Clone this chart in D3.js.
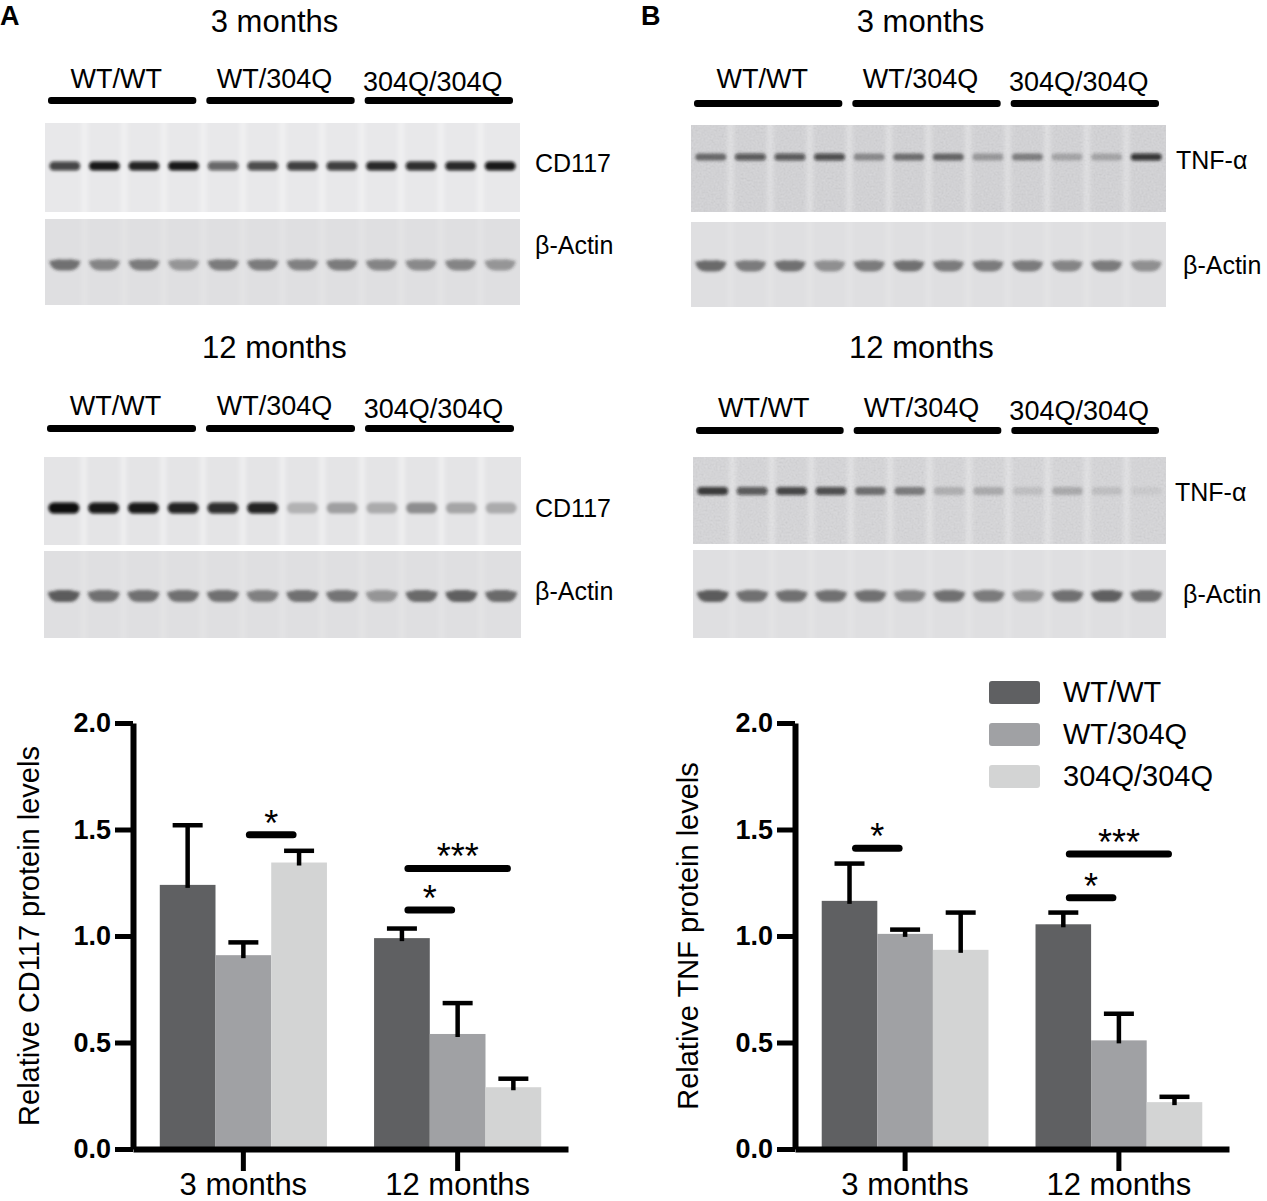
<!DOCTYPE html>
<html>
<head>
<meta charset="utf-8">
<script src="https://cdn.jsdelivr.net/npm/d3@7"></script>
<style>
  body { margin: 0; background: #fff; }
  svg text { font-family: "Liberation Sans", Arial, sans-serif; fill: #000; }
</style>
</head>
<body>
<svg width="1267" height="1201"></svg>
<script>
// groups and ages
var genotypes = ["WT/WT", "WT/304Q", "304Q/304Q"];
var ages = ["3 months", "12 months"];
var yTicks = [0, 0.5, 1.0, 1.5, 2.0];

// densitometry, mean and SEM per age (rows) and genotype (cols)
var cd117Mean = [[1.24, 0.91, 1.345], [0.99, 0.54, 0.29]];
var cd117Sem = [[0.28, 0.06, 0.055], [0.045, 0.145, 0.04]];
var tnfMean = [[1.165, 1.01, 0.935], [1.055, 0.51, 0.22]];
var tnfSem = [[0.175, 0.02, 0.175], [0.055, 0.125, 0.025]];

// significance bars: age index, genotype from/to, level on y axis
var cd117Sig = [
  {age: 0, from: 1, to: 2, level: 1.475, mark: "*"},
  {age: 1, from: 0, to: 2, level: 1.317, mark: "***"},
  {age: 1, from: 0, to: 1, level: 1.122, mark: "*"}
];
var tnfSig = [
  {age: 0, from: 0, to: 1, level: 1.412, mark: "*"},
  {age: 1, from: 0, to: 2, level: 1.385, mark: "***"},
  {age: 1, from: 0, to: 1, level: 1.179, mark: "*"}
];

// blot band darkness per lane (0 = nothing, 1 = black)
var cd117Lanes3m = [0.75, 0.95, 0.9, 0.95, 0.6, 0.72, 0.78, 0.78, 0.88, 0.85, 0.88, 0.95];
var actinLanesA3m = [0.6, 0.5, 0.55, 0.42, 0.55, 0.55, 0.52, 0.55, 0.5, 0.48, 0.5, 0.42];
var cd117Lanes12m = [1.0, 0.95, 0.95, 0.9, 0.85, 0.9, 0.22, 0.3, 0.25, 0.38, 0.28, 0.25];
var actinLanesA12m = [0.72, 0.6, 0.6, 0.6, 0.6, 0.52, 0.62, 0.58, 0.42, 0.65, 0.7, 0.65];
var tnfLanes3m = [0.5, 0.62, 0.62, 0.68, 0.35, 0.48, 0.52, 0.28, 0.4, 0.22, 0.22, 0.8];
var actinLanesB3m = [0.65, 0.55, 0.6, 0.45, 0.55, 0.6, 0.55, 0.55, 0.55, 0.5, 0.55, 0.45];
var tnfLanes12m = [0.78, 0.62, 0.72, 0.68, 0.48, 0.42, 0.18, 0.2, 0.1, 0.2, 0.1, 0.05];
var actinLanesB12m = [0.72, 0.6, 0.6, 0.6, 0.6, 0.5, 0.6, 0.55, 0.42, 0.6, 0.7, 0.62];

var svg = d3.select("svg");
var color = d3.scaleOrdinal().domain(genotypes).range(["#5f6062", "#a0a1a4", "#d3d4d4"]);

var defs = svg.append("defs");
defs.append("filter").attr("id", "blur")
  .attr("filterUnits", "userSpaceOnUse")
  .attr("x", 0).attr("y", 0).attr("width", 1267).attr("height", 1201)
  .append("feGaussianBlur").attr("stdDeviation", "1.8 1.6");
defs.append("filter").attr("id", "soft")
  .attr("filterUnits", "userSpaceOnUse")
  .attr("x", 0).attr("y", 0).attr("width", 1267).attr("height", 1201)
  .append("feGaussianBlur").attr("stdDeviation", "2.5 0");
var noise = defs.append("filter").attr("id", "noise")
  .attr("x", 0).attr("y", 0).attr("width", "100%").attr("height", "100%");
noise.append("feTurbulence").attr("type", "fractalNoise")
  .attr("baseFrequency", "0.5").attr("numOctaves", 2).attr("seed", 4);
noise.append("feColorMatrix").attr("type", "matrix")
  .attr("values", "0.33 0.33 0.33 0 0  0.33 0.33 0.33 0 0  0.33 0.33 0.33 0 0  0 0 0 0 1");

function drawBlotSet(cfg) {
  var g = svg.append("g");
  var lanes = d3.scaleBand().domain(d3.range(12)).range([cfg.x0, cfg.x1]);
  var groups = d3.scaleBand().domain(genotypes).range([cfg.x0, cfg.x1]);

  g.append("text")
    .attr("x", (cfg.x0 + cfg.x1) / 2 - 8).attr("y", cfg.titleY)
    .attr("text-anchor", "middle").style("font-size", "31px")
    .text(cfg.title);

  g.selectAll(".glabel").data(genotypes).enter().append("text")
    .attr("class", "glabel")
    .attr("x", function(d){ return groups(d) + groups.bandwidth() / 2 - 8; })
    .attr("y", function(d, i){ return cfg.labelY + (i == 2 ? 3 : 0); })
    .attr("text-anchor", "middle").style("font-size", "27px")
    .text(function(d){ return d; });

  g.selectAll(".gbar").data(genotypes).enter().append("rect")
    .attr("class", "gbar")
    .attr("x", function(d){ return groups(d) + 3; })
    .attr("width", groups.bandwidth() - 10)
    .attr("y", cfg.barY).attr("height", 7).attr("rx", 3)
    .attr("fill", "#000");

  cfg.rows.forEach(function(row){
    g.append("rect")
      .attr("x", cfg.x0).attr("y", row.y0)
      .attr("width", cfg.x1 - cfg.x0).attr("height", row.y1 - row.y0)
      .attr("fill", row.bg);
    if (row.noisy) {
      g.append("rect")
        .attr("x", cfg.x0).attr("y", row.y0)
        .attr("width", cfg.x1 - cfg.x0).attr("height", row.y1 - row.y0)
        .attr("filter", "url(#noise)").attr("opacity", 0.16);
    }
    // lighter gaps between lanes
    g.selectAll(null).data(d3.range(1, 12)).enter().append("line")
      .attr("x1", function(i){ return lanes(i); })
      .attr("x2", function(i){ return lanes(i); })
      .attr("y1", row.y0).attr("y2", row.y1)
      .attr("stroke", "#fff").attr("stroke-opacity", row.gap).attr("stroke-width", 4)
      .attr("filter", "url(#soft)");

    var cx = function(i){ return lanes(i) + lanes.bandwidth() / 2; };
    if (row.kind == "actin") {
      // smile shaped loading-control band
      var wa = lanes.bandwidth() * 0.52;
      g.selectAll(null).data(row.bands).enter().append("path")
        .attr("d", function(d, i){
          var c = cx(i), l = c - wa / 2, r = c + wa / 2, yb = row.bandY;
          return "M" + l + "," + (yb - 5) +
                 " Q" + (l + 1) + "," + yb + " " + (l + 5) + "," + yb +
                 " L" + (r - 5) + "," + yb +
                 " Q" + (r - 1) + "," + yb + " " + r + "," + (yb - 5);
        })
        .attr("fill", "none").attr("stroke", "#2a2a2a").attr("stroke-width", row.h)
        .attr("stroke-linecap", "butt")
        .attr("stroke-opacity", function(d){ return d; })
        .attr("filter", "url(#blur)");
    } else {
      var w = lanes.bandwidth() * 0.78;
      g.selectAll(null).data(row.bands).enter().append("rect")
        .attr("x", function(d, i){ return cx(i) - w / 2; })
        .attr("width", w)
        .attr("y", row.bandY - row.h / 2).attr("height", row.h)
        .attr("rx", row.h / 2)
        .attr("fill", "#0c0c0c").attr("fill-opacity", function(d){ return d; })
        .attr("filter", "url(#blur)");
    }

    g.append("text")
      .attr("x", row.labelX).attr("y", row.labelY).attr("dy", "0.35em")
      .style("font-size", "25px")
      .text(row.label);
  });
}

function drawChart(cfg) {
  var g = svg.append("g");
  var x0 = d3.scaleBand().domain(ages).range([cfg.left, cfg.right])
    .paddingInner(0.22).paddingOuter(0.125);
  var x1 = d3.scaleBand().domain(genotypes).range([0, x0.bandwidth()]);
  var y = d3.scaleLinear().domain([0, 2]).range([1149, 723]);
  var barCenter = function(a, i){ return x0(ages[a]) + x1(genotypes[i]) + x1.bandwidth() / 2; };

  ages.forEach(function(age, a){
    var grp = g.append("g");
    grp.selectAll(".bar").data(cfg.mean[a]).enter().append("rect")
      .attr("class", "bar")
      .attr("x", function(d, i){ return x0(age) + x1(genotypes[i]); })
      .attr("width", x1.bandwidth())
      .attr("y", function(d){ return y(d); })
      .attr("height", function(d){ return y(0) - y(d); })
      .attr("fill", function(d, i){ return color(genotypes[i]); });

    // upper error bars
    grp.selectAll(".err").data(cfg.mean[a]).enter().append("line")
      .attr("class", "err")
      .attr("x1", function(d, i){ return barCenter(a, i); })
      .attr("x2", function(d, i){ return barCenter(a, i); })
      .attr("y1", function(d){ return y(d) + 3; })
      .attr("y2", function(d, i){ return y(d + cfg.sem[a][i]); })
      .attr("stroke", "#000").attr("stroke-width", 4.5);
    grp.selectAll(".cap").data(cfg.mean[a]).enter().append("line")
      .attr("class", "cap")
      .attr("x1", function(d, i){ return barCenter(a, i) - 15; })
      .attr("x2", function(d, i){ return barCenter(a, i) + 15; })
      .attr("y1", function(d, i){ return y(d + cfg.sem[a][i]); })
      .attr("y2", function(d, i){ return y(d + cfg.sem[a][i]); })
      .attr("stroke", "#000").attr("stroke-width", 4.5);
  });

  cfg.sig.forEach(function(s){
    var xa = barCenter(s.age, s.from), xb = barCenter(s.age, s.to);
    g.append("line")
      .attr("x1", xa + 6).attr("x2", xb - 6)
      .attr("y1", y(s.level)).attr("y2", y(s.level))
      .attr("stroke", "#000").attr("stroke-width", 7).attr("stroke-linecap", "round");
    g.append("text")
      .attr("x", (xa + xb) / 2).attr("y", y(s.level) + 1)
      .attr("text-anchor", "middle").style("font-size", "36px")
      .text(s.mark);
  });

  var yAxis = g.append("g").attr("transform", "translate(" + cfg.left + ",0)")
    .call(d3.axisLeft(y).tickValues(yTicks).tickFormat(d3.format(".1f"))
      .tickSize(18).tickSizeOuter(0).tickPadding(4));
  yAxis.select(".domain").attr("stroke-width", 6);
  yAxis.selectAll(".tick line").attr("stroke-width", 5);
  yAxis.selectAll(".tick text")
    .style("font-size", "27px").style("font-weight", "bold")
    .style("font-family", "'Liberation Sans', Arial, sans-serif");

  var xAxis = g.append("g").attr("transform", "translate(0," + y(0) + ")")
    .call(d3.axisBottom(x0).tickSize(22).tickSizeOuter(0).tickPadding(2));
  xAxis.select(".domain").attr("stroke-width", 6);
  xAxis.selectAll(".tick line").attr("stroke-width", 5);
  xAxis.selectAll(".tick text")
    .style("font-size", "31px")
    .style("font-family", "'Liberation Sans', Arial, sans-serif");

  g.append("text")
    .attr("transform", "translate(" + cfg.titleX + "," + (y(0) + y(2)) / 2 + ") rotate(-90)")
    .attr("text-anchor", "middle").attr("dy", "0.35em")
    .style("font-size", "29px")
    .text(cfg.yTitle);

  if (cfg.legend) {
    var lg = g.append("g");
    lg.selectAll("rect").data(genotypes).enter().append("rect")
      .attr("x", 989).attr("y", function(d, i){ return 681 + i * 42; })
      .attr("width", 51).attr("height", 23).attr("rx", 3)
      .attr("fill", function(d){ return color(d); });
    lg.selectAll("text").data(genotypes).enter().append("text")
      .attr("x", 1063).attr("y", function(d, i){ return 692 + i * 42; })
      .attr("dy", "0.35em").style("font-size", "29px")
      .text(function(d){ return d; });
  }
}

function main(){
  svg.append("text").attr("x", 0).attr("y", 25)
    .style("font-size", "27px").style("font-weight", "bold").text("A");
  svg.append("text").attr("x", 641).attr("y", 25)
    .style("font-size", "27px").style("font-weight", "bold").text("B");

  drawBlotSet({x0: 45, x1: 520, title: "3 months", titleY: 32, labelY: 88, barY: 97, rows: [
    {y0: 123, y1: 212, bg: "#e8e8ea", gap: 0.55, kind: "band", bands: cd117Lanes3m, bandY: 166, h: 9, label: "CD117", labelX: 535, labelY: 163},
    {y0: 219, y1: 305, bg: "#dfdfe1", gap: 0.2, kind: "actin", bands: actinLanesA3m, bandY: 265, h: 11, label: "β-Actin", labelX: 535, labelY: 245}
  ]});
  drawBlotSet({x0: 44, x1: 521, title: "12 months", titleY: 358, labelY: 415, barY: 425, rows: [
    {y0: 457, y1: 545, bg: "#e4e4e6", gap: 0.6, kind: "band", bands: cd117Lanes12m, bandY: 508, h: 11, label: "CD117", labelX: 535, labelY: 508},
    {y0: 551, y1: 638, bg: "#dfdfe1", gap: 0.2, kind: "actin", bands: actinLanesA12m, bandY: 596, h: 12, label: "β-Actin", labelX: 535, labelY: 591}
  ]});
  drawBlotSet({x0: 691, x1: 1166, title: "3 months", titleY: 32, labelY: 88, barY: 100, rows: [
    {y0: 125, y1: 212, bg: "#d6d6d9", noisy: true, gap: 0.45, kind: "band", bands: tnfLanes3m, bandY: 157, h: 7, label: "TNF-α", labelX: 1176, labelY: 160},
    {y0: 222, y1: 307, bg: "#dfdfe1", gap: 0.2, kind: "actin", bands: actinLanesB3m, bandY: 266, h: 11, label: "β-Actin", labelX: 1183, labelY: 265}
  ]});
  drawBlotSet({x0: 693, x1: 1166, title: "12 months", titleY: 358, labelY: 417, barY: 427, rows: [
    {y0: 457, y1: 544, bg: "#d9d9dc", noisy: true, gap: 0.45, kind: "band", bands: tnfLanes12m, bandY: 491, h: 8, label: "TNF-α", labelX: 1175, labelY: 492},
    {y0: 550, y1: 638, bg: "#dfdfe1", gap: 0.2, kind: "actin", bands: actinLanesB12m, bandY: 596, h: 12, label: "β-Actin", labelX: 1183, labelY: 594}
  ]});

  drawChart({left: 133, right: 568, mean: cd117Mean, sem: cd117Sem, sig: cd117Sig,
    yTitle: "Relative CD117 protein levels", titleX: 29, legend: false});
  drawChart({left: 795, right: 1229, mean: tnfMean, sem: tnfSem, sig: tnfSig,
    yTitle: "Relative TNF protein levels", titleX: 688, legend: true});
}
main();
</script>
</body>
</html>
